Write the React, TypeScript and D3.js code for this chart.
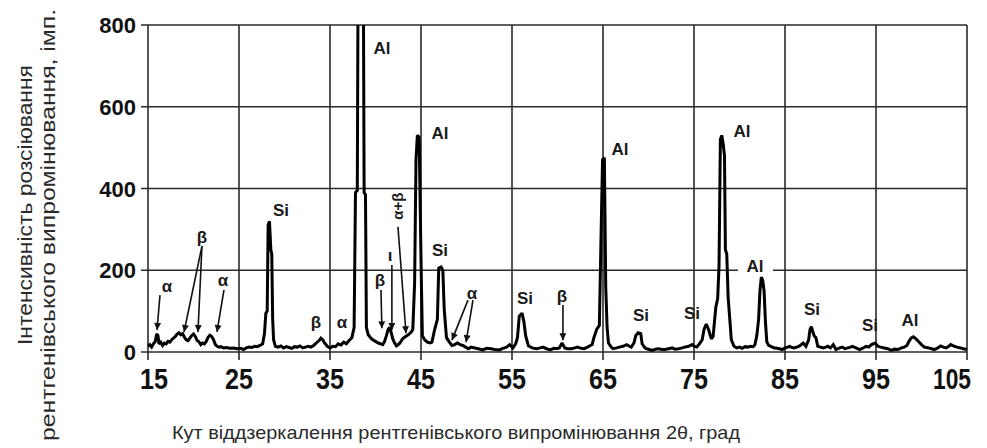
import React from "react";
import * as d3 from "d3";

const xTicks = [15, 25, 35, 45, 55, 65, 75, 85, 95, 105];
const yTicks = [0, 200, 400, 600, 800];

const yTitle1 = "Інтенсивність розсіювання";
const yTitle2 = "рентгенівського випромінювання, імп.";
const xTitle = "Кут віддзеркалення рентгенівського випромінювання 2θ, град";

// [2θ, intensity]
const scan: [number, number][] = [
  [15.0, 14], [15.2, 18], [15.4, 12], [15.6, 20], [15.8, 26], [15.95, 44], [16.1, 40], [16.2, 20], [16.4, 24], [16.6, 16],
  [16.8, 22], [17.0, 20], [17.2, 26], [17.4, 24], [17.6, 30], [17.8, 34], [18.0, 38], [18.2, 44], [18.4, 47], [18.6, 42],
  [18.8, 45], [19.0, 36], [19.2, 30], [19.4, 28], [19.6, 34], [19.8, 40], [20.0, 44], [20.2, 38], [20.4, 28], [20.6, 25],
  [20.8, 18], [21.0, 22], [21.2, 20], [21.4, 26], [21.6, 36], [21.8, 41], [22.0, 38], [22.2, 30], [22.4, 18], [22.6, 14],
  [22.8, 12], [23.0, 13], [23.3, 10], [23.6, 11], [24.0, 9], [24.4, 10], [24.8, 8], [25.2, 9], [25.5, 6], [25.8, 10],
  [26.1, 12], [26.4, 11], [26.7, 14], [27.0, 13], [27.3, 16], [27.6, 20], [27.8, 45], [27.95, 95], [28.1, 100], [28.2, 310],
  [28.35, 320], [28.5, 250], [28.6, 240], [28.7, 80], [28.8, 30], [29.0, 14], [29.3, 12], [29.6, 15], [29.9, 10], [30.2, 13],
  [30.5, 11], [30.8, 9], [31.1, 13], [31.4, 12], [31.7, 15], [32.0, 10], [32.3, 12], [32.6, 14], [32.9, 12], [33.2, 16],
  [33.5, 22], [33.8, 28], [34.0, 34], [34.2, 30], [34.4, 22], [34.7, 14], [35.0, 10], [35.3, 14], [35.6, 13], [35.9, 20],
  [36.2, 17], [36.5, 24], [36.8, 20], [37.1, 28], [37.4, 35], [37.65, 60], [37.8, 390], [38.0, 395], [38.1, 1000], [38.65, 1000],
  [38.75, 390], [38.9, 385], [39.0, 60], [39.2, 42], [39.5, 34], [39.7, 30], [40.0, 26], [40.3, 22], [40.6, 20], [40.8, 18],
  [41.0, 26], [41.2, 40], [41.4, 56], [41.55, 60], [41.7, 50], [41.9, 32], [42.1, 22], [42.3, 15], [42.6, 20], [42.8, 26],
  [43.0, 33], [43.3, 38], [43.6, 42], [43.9, 48], [44.1, 55], [44.3, 170], [44.45, 470], [44.6, 530], [44.8, 525], [44.95, 300],
  [45.05, 160], [45.15, 40], [45.4, 30], [45.7, 24], [46.0, 22], [46.2, 24], [46.5, 55], [46.8, 80], [46.95, 205], [47.2, 208],
  [47.4, 200], [47.55, 105], [47.8, 35], [48.1, 25], [48.4, 16], [48.7, 18], [49.0, 22], [49.3, 18], [49.6, 16], [49.9, 12],
  [50.2, 8], [50.5, 12], [50.9, 10], [51.3, 8], [51.8, 5], [52.2, 9], [52.7, 8], [53.1, 6], [53.6, 5], [54.0, 9],
  [54.4, 12], [54.75, 18], [55.1, 10], [55.4, 20], [55.6, 35], [55.8, 88], [56.1, 95], [56.3, 75], [56.5, 40], [56.8, 15],
  [57.2, 10], [57.7, 8], [58.1, 10], [58.4, 12], [58.8, 8], [59.2, 5], [59.6, 9], [59.9, 8], [60.2, 10], [60.5, 22],
  [60.8, 10], [61.1, 8], [61.5, 8], [61.9, 10], [62.2, 12], [62.6, 9], [62.9, 8], [63.3, 12], [63.6, 16], [63.8, 18],
  [64.0, 35], [64.3, 55], [64.6, 65], [64.8, 300], [64.95, 470], [65.15, 475], [65.3, 160], [65.45, 60], [65.6, 22], [65.9, 12],
  [66.1, 8], [66.5, 10], [66.8, 12], [67.2, 14], [67.6, 18], [67.9, 14], [68.1, 12], [68.4, 22], [68.6, 40], [68.85, 47],
  [69.15, 45], [69.3, 20], [69.6, 10], [69.8, 8], [70.1, 6], [70.4, 4], [70.8, 7], [71.1, 8], [71.5, 6], [71.8, 6],
  [72.2, 8], [72.6, 10], [72.9, 7], [73.3, 8], [73.7, 10], [74.0, 12], [74.4, 14], [74.8, 18], [75.0, 14], [75.3, 12],
  [75.6, 20], [75.9, 30], [76.1, 55], [76.35, 68], [76.6, 55], [76.9, 32], [77.1, 38], [77.4, 110], [77.6, 130], [77.75, 210],
  [77.9, 520], [78.05, 530], [78.2, 510], [78.35, 480], [78.45, 250], [78.6, 240], [78.75, 135], [78.9, 90], [79.1, 30], [79.4, 14],
  [79.7, 10], [80.0, 12], [80.3, 9], [80.6, 13], [80.9, 12], [81.2, 14], [81.5, 13], [81.7, 18], [81.9, 40], [82.1, 80],
  [82.25, 150], [82.4, 183], [82.55, 175], [82.7, 150], [82.85, 75], [83.0, 25], [83.2, 16], [83.5, 13], [83.8, 10], [84.0, 10],
  [84.4, 8], [84.7, 6], [85.0, 10], [85.3, 12], [85.5, 14], [85.8, 11], [86.0, 10], [86.3, 12], [86.6, 15], [87.0, 22],
  [87.3, 14], [87.6, 30], [87.75, 55], [87.9, 62], [88.05, 50], [88.2, 40], [88.4, 35], [88.6, 14], [88.9, 12], [89.2, 10],
  [89.5, 12], [89.7, 14], [90.0, 10], [90.3, 18], [90.6, 6], [91.0, 10], [91.3, 12], [91.6, 8], [91.9, 10], [92.2, 12],
  [92.4, 14], [92.8, 10], [93.2, 6], [93.6, 10], [93.9, 14], [94.2, 12], [94.5, 18], [94.9, 22], [95.2, 14], [95.5, 12],
  [95.9, 10], [96.3, 8], [96.7, 4], [97.0, 7], [97.4, 6], [97.8, 10], [98.1, 12], [98.4, 16], [98.6, 25], [98.85, 34],
  [99.1, 37], [99.4, 32], [99.7, 25], [100.0, 18], [100.3, 12], [100.8, 10], [101.1, 8], [101.4, 6], [101.8, 10], [102.1, 15],
  [102.4, 12], [102.7, 10], [103.0, 14], [103.2, 18], [103.4, 16], [103.6, 14], [103.9, 12], [104.3, 10], [104.6, 8], [105.0, 6],
];

// phase labels: [text, 2θ, intensity]
const phaseLabels: [string, number, number][] = [
  ["α", 17.09, 161], ["β", 20.93, 281], ["α", 23.24, 174], ["Si", 29.62, 345], ["β", 33.46, 73], ["α", 36.32, 73],
  ["Al", 40.71, 743], ["β", 40.49, 174], ["ι", 41.6, 237], ["Al", 47.09, 535], ["Si", 47.09, 249], ["α", 50.6, 142],
  ["Si", 56.43, 130], ["β", 60.49, 137], ["Al", 66.87, 496], ["Si", 69.18, 90], ["Si", 74.78, 95], ["Al", 80.27, 540],
  ["Si", 87.97, 103], ["Si", 94.34, 66], ["Al", 98.74, 78],
];
// boxed label (white background, breaks the grid line)
const boxedLabels: [string, number, number][] = [["Al", 81.7, 210]];
// rotated label
const rotatedLabels: [string, number, number][] = [["α+β", 42.42, 357]];

// arrows: [from 2θ, from I, to 2θ, to I]
const arrows: [number, number, number, number][] = [
  [16.32, 139, 15.99, 54],
  [20.93, 259, 18.96, 49],
  [20.93, 259, 20.49, 49],
  [23.35, 152, 22.58, 49],
  [40.6, 152, 40.7, 58],
  [41.8, 213, 41.8, 54],
  [42.47, 306, 43.35, 46],
  [50.16, 127, 48.4, 29],
  [50.71, 127, 49.95, 24],
  [60.6, 115, 60.6, 29],
];

const W = 987;
const H = 448;
const left = 148;
const right = 967;
const top = 25;
const bottom = 352;

export default function App() {
  const x = d3.scaleLinear().domain([15, 105]).range([left, right]);
  const y = d3.scaleLinear().domain([0, 800]).range([bottom, top]);
  const line = d3
    .line<[number, number]>()
    .x((d) => x(d[0]))
    .y((d) => y(d[1]));

  const gridColor = "#2a2a2a";
  const labelFont = "'Liberation Sans', Arial, Helvetica, sans-serif";

  // keep the first and last tick labels inside the frame, as in the reference
  const xLabelPos = (t: number) => {
    const px = x(t);
    if (t === xTicks[0]) return px + 6;
    if (t === xTicks[xTicks.length - 1]) return px - 15;
    return px;
  };

  return (
    <svg
      width={W}
      height={H}
      style={{ position: "absolute", left: 0, top: 0, background: "#fff" }}
      fontFamily={labelFont}
    >
      <defs>
        <clipPath id="plotClip">
          <rect x={left - 2} y={top} width={right - left + 4} height={bottom - top + 10} />
        </clipPath>
        <marker id="arrowHead" viewBox="0 0 10 10" refX="10" refY="5" markerWidth="8" markerHeight="7" orient="auto" markerUnits="userSpaceOnUse">
          <path d="M0,0 L10,5 L0,10 z" fill="#111" />
        </marker>
      </defs>
      <rect x={0} y={0} width={W} height={H} fill="#fff" />

      {/* horizontal grid */}
      {yTicks.map((t) => (
        <line key={"h" + t} x1={left - 7} x2={right} y1={y(t)} y2={y(t)} stroke={gridColor} strokeWidth={1.6} />
      ))}
      {/* vertical grid */}
      {xTicks.map((t) => (
        <line key={"v" + t} x1={x(t)} x2={x(t)} y1={top} y2={bottom + 8} stroke={gridColor} strokeWidth={1.6} />
      ))}

      {/* boxed label background */}
      {boxedLabels.map(([t, a, v], i) => (
        <rect key={"bb" + i} x={x(a) - 17} y={y(v) - 10} width={35} height={20} fill="#fff" />
      ))}

      {/* trace */}
      <path d={line(scan) || ""} fill="none" stroke="#000" strokeWidth={3} strokeLinejoin="miter" strokeMiterlimit={2} clipPath="url(#plotClip)" />

      {/* y tick labels */}
      {yTicks.map((t) => (
        <text key={"yl" + t} x={136} y={y(t) + 8} textAnchor="end" fontSize={22} fontWeight="bold" fill="#111">
          {t}
        </text>
      ))}
      {/* x tick labels */}
      {xTicks.map((t) => (
        <text
          key={"xl" + t}
          x={xLabelPos(t)}
          y={389}
          textAnchor="middle"
          fontSize={30}
          fontWeight="bold"
          fill="#111"
          textLength={String(t).length === 3 ? 38 : 28}
          lengthAdjust="spacingAndGlyphs"
        >
          {t}
        </text>
      ))}

      {/* arrows */}
      {arrows.map(([a1, v1, a2, v2], i) => (
        <line key={"ar" + i} x1={x(a1)} y1={y(v1)} x2={x(a2)} y2={y(v2)} stroke="#111" strokeWidth={1.6} markerEnd="url(#arrowHead)" />
      ))}

      {/* phase labels */}
      {phaseLabels.map(([t, a, v], i) => (
        <text key={"pl" + i} x={x(a)} y={y(v)} textAnchor="middle" dominantBaseline="central" fontSize={17} fontWeight="bold" fill="#1a1a1a">
          {t}
        </text>
      ))}
      {boxedLabels.map(([t, a, v], i) => (
        <text key={"bl" + i} x={x(a)} y={y(v)} textAnchor="middle" dominantBaseline="central" fontSize={17} fontWeight="bold" fill="#1a1a1a">
          {t}
        </text>
      ))}
      {rotatedLabels.map(([t, a, v], i) => (
        <text
          key={"rl" + i}
          transform={`translate(${x(a)},${y(v)}) rotate(-90)`}
          textAnchor="middle"
          dominantBaseline="central"
          fontSize={15}
          fontWeight="bold"
          fill="#1a1a1a"
        >
          {t}
        </text>
      ))}

      {/* axis titles */}
      <text
        transform={`translate(25,205) rotate(-90)`}
        textAnchor="middle"
        dominantBaseline="central"
        fontSize={20}
        fill="#2a2a2a"
        textLength={280}
        lengthAdjust="spacingAndGlyphs"
      >
        {yTitle1}
      </text>
      <text
        transform={`translate(48,225) rotate(-90)`}
        textAnchor="middle"
        dominantBaseline="central"
        fontSize={20}
        fill="#2a2a2a"
        textLength={432}
        lengthAdjust="spacingAndGlyphs"
      >
        {yTitle2}
      </text>
      <text x={456} y={432} textAnchor="middle" dominantBaseline="central" fontSize={19} fill="#2a2a2a" textLength={568} lengthAdjust="spacingAndGlyphs">
        {xTitle}
      </text>
    </svg>
  );
}
